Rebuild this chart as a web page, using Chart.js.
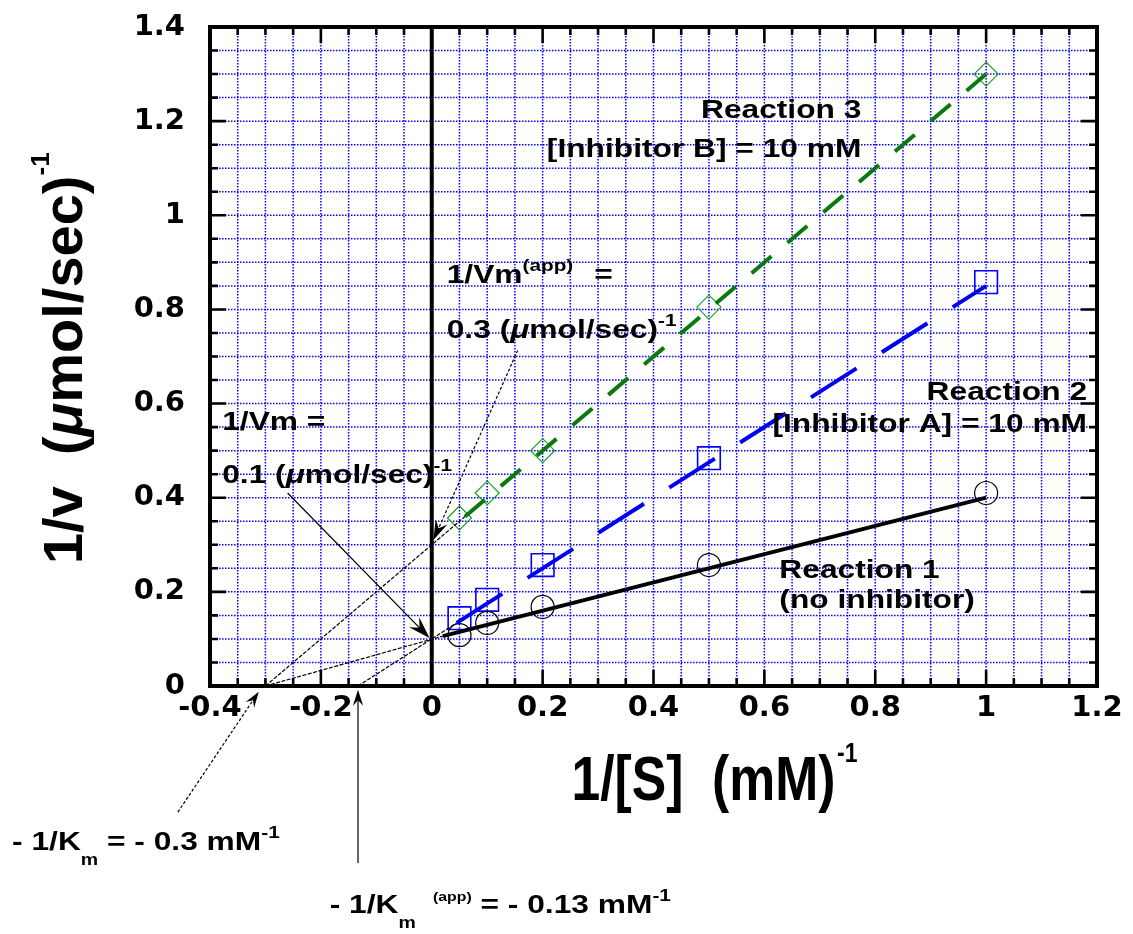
<!DOCTYPE html>
<html>
<head>
<meta charset="utf-8">
<script src="https://cdn.jsdelivr.net/npm/chart.js@4.4.1/dist/chart.umd.min.js"></script>
<style>
  html, body { margin: 0; padding: 0; background: #fff; }
  #wrap { width: 1133px; height: 934px; position: relative; }
</style>
</head>
<body>
<div id="wrap"><canvas id="myChart"></canvas></div>
<script>
// Datos medidos en la figura (1/[S] en mM^-1, 1/v en (umol/sec)^-1)
const invS = [0.05, 0.1, 0.2, 0.5, 1];
const reaccion1 = [0.108, 0.134, 0.168, 0.257, 0.41];
const reaccion2 = [0.144, 0.183, 0.257, 0.484, 0.858];
const reaccion3 = [0.357, 0.41, 0.5, 0.805, 1.3];

// rectas ajustadas (extremos)
const ajuste1X = [0.02, 1];
const ajuste1Y = [0.106, 0.4];
const ajuste2X = [0.045, 1];
const ajuste2Y = [0.134, 0.85];
const ajuste3X = [0.06, 1];
const ajuste3Y = [0.36, 1.3];

// extrapolaciones hasta los cortes con los ejes
const extrap1X = [-0.3, 0.02];
const extrap1Y = [0, 0.106];
const extrap2X = [-0.133, 0.045];
const extrap2Y = [0, 0.134];
const extrap3X = [-0.3, 0.06];
const extrap3Y = [0, 0.36];

// ejes
const xMin = -0.4, xMax = 1.2, yMin = 0, yMax = 1.4;
const xMayores = [-0.4, -0.2, 0, 0.2, 0.4, 0.6, 0.8, 1, 1.2];
const xEtiquetas = ["-0.4", "-0.2", "0", "0.2", "0.4", "0.6", "0.8", "1", "1.2"];
const yMayores = [0, 0.2, 0.4, 0.6, 0.8, 1, 1.2, 1.4];
const yEtiquetas = ["0", "0.2", "0.4", "0.6", "0.8", "1", "1.2", "1.4"];

const pares = (xs, ys) => xs.map((x, i) => ({ x, y: ys[i] }));
const esMayor = (v, lista) => lista.findIndex((t) => Math.abs(t - v) < 1e-6);

// textos sobre el grafico (posiciones en unidades de datos)
const notas = [
  { x: 0.775, y: 1.206, align: "right", segs: [{ t: "Reaction 3" }] },
  { x: 0.775, y: 1.123, align: "right", segs: [{ t: "[Inhibitor B] = 10 mM" }] },
  { x: 1.182, y: 0.607, align: "right", segs: [{ t: "Reaction 2" }] },
  { x: 1.182, y: 0.539, align: "right", segs: [{ t: "[Inhibitor A] = 10 mM" }] },
  { x: 0.627, y: 0.229, segs: [{ t: "Reaction 1" }] },
  { x: 0.627, y: 0.166, segs: [{ t: "(no inhibitor)" }] },
  { x: 0.027, y: 0.856, segs: [{ t: "1/Vm" }, { t: "(app)", sup: true }, { t: " =", gap: 10 }] },
  { x: 0.027, y: 0.739, segs: [{ t: "0.3 (" }, { t: "\u03bc", it: true }, { t: "mol/sec)" }, { t: "-1", sup: true }] },
  { x: -0.378, y: 0.544, segs: [{ t: "1/Vm =" }] },
  { x: -0.378, y: 0.431, segs: [{ t: "0.1 (" }, { t: "\u03bc", it: true }, { t: "mol/sec)" }, { t: "-1", sup: true }] },
  { x: -0.757, y: -0.348, segs: [{ t: "- 1/K" }, { t: "m", sub: true }, { t: " = - 0.3 mM" }, { t: "-1", sup: true }] },
  { x: -0.184, y: -0.482, segs: [{ t: "- 1/K" }, { t: "m", sub: true }, { t: "(app)", sup: true, size: 13, gap: 14 }, { t: " = - 0.13 mM" }, { t: "-1", sup: true }] },
];

// flechas de las anotaciones
const flechas = [
  { desde: [-0.26, 0.41], hasta: [-0.004, 0.102], dash: [], punta: 22 },
  { desde: [0.155, 0.713], hasta: [0.003, 0.31], dash: [3, 2], punta: 20 },
  { desde: [-0.458, -0.268], hasta: [-0.312, -0.012], dash: [3, 2], punta: 16 },
  { desde: [-0.133, -0.376], hasta: [-0.133, -0.008], dash: [], punta: 16 },
];

function escribir(ctx, segs, x, y, o) {
  const fuente = (s) => {
    const sz = s.size || (s.sup ? o.supSize : s.sub ? o.subSize : o.size);
    return `${s.it ? "italic " : ""}bold ${sz}px "Liberation Sans", Arial, sans-serif`;
  };
  let total = 0;
  const anchos = segs.map((s) => {
    ctx.font = fuente(s);
    const w = ctx.measureText(s.t).width + (s.gap || 0);
    total += w;
    return w;
  });
  ctx.save();
  ctx.translate(x, y);
  if (o.rot) ctx.rotate(o.rot);
  ctx.scale(o.sx, 1);
  ctx.fillStyle = "#000";
  ctx.textAlign = "left";
  ctx.textBaseline = "alphabetic";
  let cx = o.align === "right" ? -total : 0;
  segs.forEach((s, i) => {
    ctx.font = fuente(s);
    const dy = s.sup ? -o.supRise : s.sub ? o.subDrop : 0;
    ctx.fillText(s.t, cx + (s.gap || 0), dy);
    cx += anchos[i];
  });
  ctx.restore();
}

function flecha(ctx, x1, y1, x2, y2, dash, L) {
  const ang = Math.atan2(y2 - y1, x2 - x1);
  const W = L * 0.32;
  const c = Math.cos(ang), s = Math.sin(ang);
  ctx.save();
  ctx.strokeStyle = "#000";
  ctx.fillStyle = "#000";
  ctx.lineWidth = 1.2;
  ctx.setLineDash(dash);
  ctx.beginPath();
  ctx.moveTo(x1, y1);
  ctx.lineTo(x2 - c * L * 0.6, y2 - s * L * 0.6);
  ctx.stroke();
  ctx.setLineDash([]);
  ctx.beginPath();
  ctx.moveTo(x2, y2);
  ctx.lineTo(x2 - c * L + s * W, y2 - s * L - c * W);
  ctx.lineTo(x2 - c * L * 0.65, y2 - s * L * 0.65);
  ctx.lineTo(x2 - c * L - s * W, y2 - s * L + c * W);
  ctx.closePath();
  ctx.fill();
  ctx.restore();
}

// papel cuadriculado, ejes y anotaciones
const plugin_papel = {
  id: "papel",
  beforeDatasetsDraw(chart) {
    const { ctx, chartArea: a, scales } = chart;
    ctx.save();
    ctx.strokeStyle = "#0000ff";
    ctx.lineWidth = 1.5;
    ctx.setLineDash([1.5, 1.5]);
    scales.x.ticks.forEach((t) => {
      if (t.value <= xMin || t.value >= xMax || t.value === 0) return;
      const p = scales.x.getPixelForValue(t.value);
      ctx.beginPath();
      ctx.moveTo(p, a.top);
      ctx.lineTo(p, a.bottom);
      ctx.stroke();
    });
    scales.y.ticks.forEach((t) => {
      if (t.value <= yMin || t.value >= yMax) return;
      const p = scales.y.getPixelForValue(t.value);
      ctx.beginPath();
      ctx.moveTo(a.left, p);
      ctx.lineTo(a.right, p);
      ctx.stroke();
    });
    // eje vertical en x = 0
    ctx.setLineDash([]);
    ctx.strokeStyle = "#000";
    ctx.lineWidth = 4;
    const x0 = scales.x.getPixelForValue(0);
    ctx.beginPath();
    ctx.moveTo(x0, a.top);
    ctx.lineTo(x0, a.bottom);
    ctx.stroke();
    ctx.restore();
  },
  afterDatasetsDraw(chart) {
    const { ctx, chartArea: a, scales } = chart;
    ctx.save();
    ctx.strokeStyle = "#000";
    ctx.lineWidth = 2.6;
    scales.x.ticks.forEach((t) => {
      const p = scales.x.getPixelForValue(t.value);
      const l = esMayor(t.value, xMayores) >= 0 ? 16 : 8;
      ctx.beginPath();
      ctx.moveTo(p, a.bottom);
      ctx.lineTo(p, a.bottom - l);
      ctx.moveTo(p, a.top);
      ctx.lineTo(p, a.top + l);
      ctx.stroke();
    });
    scales.y.ticks.forEach((t) => {
      const p = scales.y.getPixelForValue(t.value);
      const l = esMayor(t.value, yMayores) >= 0 ? 16 : 8;
      ctx.beginPath();
      ctx.moveTo(a.left, p);
      ctx.lineTo(a.left + l, p);
      ctx.moveTo(a.right, p);
      ctx.lineTo(a.right - l, p);
      ctx.stroke();
    });
    ctx.lineWidth = 4;
    ctx.strokeRect(a.left, a.top, a.right - a.left, a.bottom - a.top);
    ctx.restore();
  },
  afterDraw(chart) {
    const { ctx, scales } = chart;
    const X = (v) => scales.x.getPixelForValue(v);
    const Y = (v) => scales.y.getPixelForValue(v);

    flechas.forEach((f) => flecha(ctx, X(f.desde[0]), Y(f.desde[1]), X(f.hasta[0]), Y(f.hasta[1]), f.dash, f.punta));

    notas.forEach((n) =>
      escribir(ctx, n.segs, X(n.x), Y(n.y), {
        size: 26, sx: 1.22, align: n.align, supSize: 17, supRise: 12, subSize: 16, subDrop: 15,
      })
    );

    // titulo eje X
    escribir(ctx, [{ t: "1/[S]  (mM)" }, { t: "-1", sup: true, gap: 2 }], X(0.252), Y(-0.242), {
      size: 63, sx: 0.82, supSize: 28, supRise: 38,
    });
    // titulo eje Y
    escribir(ctx, [{ t: "1/v  (" }, { t: "\u03bc", it: true }, { t: "mol/sec)" }, { t: "-1", sup: true }], X(xMin) - 128, Y(0.259), {
      size: 56, sx: 1, rot: -Math.PI / 2, supSize: 26, supRise: 33,
    });
  },
};

const ctx = document.getElementById("myChart").getContext("2d");

const linea = { showLine: true, pointRadius: 0, fill: false };
const fuenteTicks = { family: "'DejaVu Sans'", weight: "bold", size: 29 };

new Chart(ctx, {
  type: "scatter",
  data: {
    datasets: [
      { ...linea, label: "Ajuste 1", data: pares(ajuste1X, ajuste1Y), borderColor: "#000", borderWidth: 3.8 },
      { ...linea, label: "Ajuste 2", data: pares(ajuste2X, ajuste2Y), borderColor: "#0000f0", borderWidth: 4, borderDash: [54, 30] },
      { ...linea, label: "Ajuste 3", data: pares(ajuste3X, ajuste3Y), borderColor: "#0a780a", borderWidth: 4, borderDash: [26, 21] },
      { ...linea, label: "Extrap 1", data: pares(extrap1X, extrap1Y), borderColor: "#000", borderWidth: 1.2, borderDash: [4, 1.5] },
      { ...linea, label: "Extrap 2", data: pares(extrap2X, extrap2Y), borderColor: "#000", borderWidth: 1.2, borderDash: [4, 1.5] },
      { ...linea, label: "Extrap 3", data: pares(extrap3X, extrap3Y), borderColor: "#000", borderWidth: 1.2, borderDash: [4, 1.5] },
      {
        label: "Reaction 1", data: pares(invS, reaccion1), pointStyle: "circle", pointRadius: 11.5,
        pointBorderWidth: 1.2, borderColor: "#000", backgroundColor: "rgba(0,0,0,0)",
      },
      {
        label: "Reaction 2", data: pares(invS, reaccion2), pointStyle: "rect", pointRadius: 16,
        pointBorderWidth: 1.6, borderColor: "#0000ff", backgroundColor: "rgba(0,0,0,0)",
      },
      {
        label: "Reaction 3", data: pares(invS, reaccion3), pointStyle: "rectRot", pointRadius: 12,
        pointBorderWidth: 1.2, borderColor: "#23a023", backgroundColor: "rgba(0,0,0,0)",
      },
    ],
  },
  options: {
    responsive: true,
    maintainAspectRatio: false,
    animation: false,
    events: [],
    layout: { autoPadding: false, padding: { top: 27, right: 36, left: 0, bottom: 0 } },
    plugins: { legend: { display: false }, tooltip: { enabled: false } },
    scales: {
      x: {
        type: "linear",
        min: xMin,
        max: xMax,
        grid: { display: false, drawTicks: false },
        border: { display: false },
        ticks: {
          stepSize: 0.05,
          autoSkip: false,
          maxRotation: 0,
          padding: 5,
          color: "#000",
          font: fuenteTicks,
          callback: (v) => {
            const i = esMayor(v, xMayores);
            return i >= 0 ? xEtiquetas[i] : "";
          },
        },
        afterFit: (s) => { s.height = 248; s.paddingLeft = 0; s.paddingRight = 0; },
      },
      y: {
        type: "linear",
        min: yMin,
        max: yMax,
        grid: { display: false, drawTicks: false },
        border: { display: false },
        ticks: {
          stepSize: 0.05,
          autoSkip: false,
          padding: 25,
          color: "#000",
          font: fuenteTicks,
          callback: (v) => {
            const i = esMayor(v, yMayores);
            return i >= 0 ? yEtiquetas[i] : "";
          },
        },
        afterFit: (s) => { s.width = 210; s.paddingTop = 0; s.paddingBottom = 0; },
      },
    },
  },
  plugins: [plugin_papel],
});
</script>
</body>
</html>
